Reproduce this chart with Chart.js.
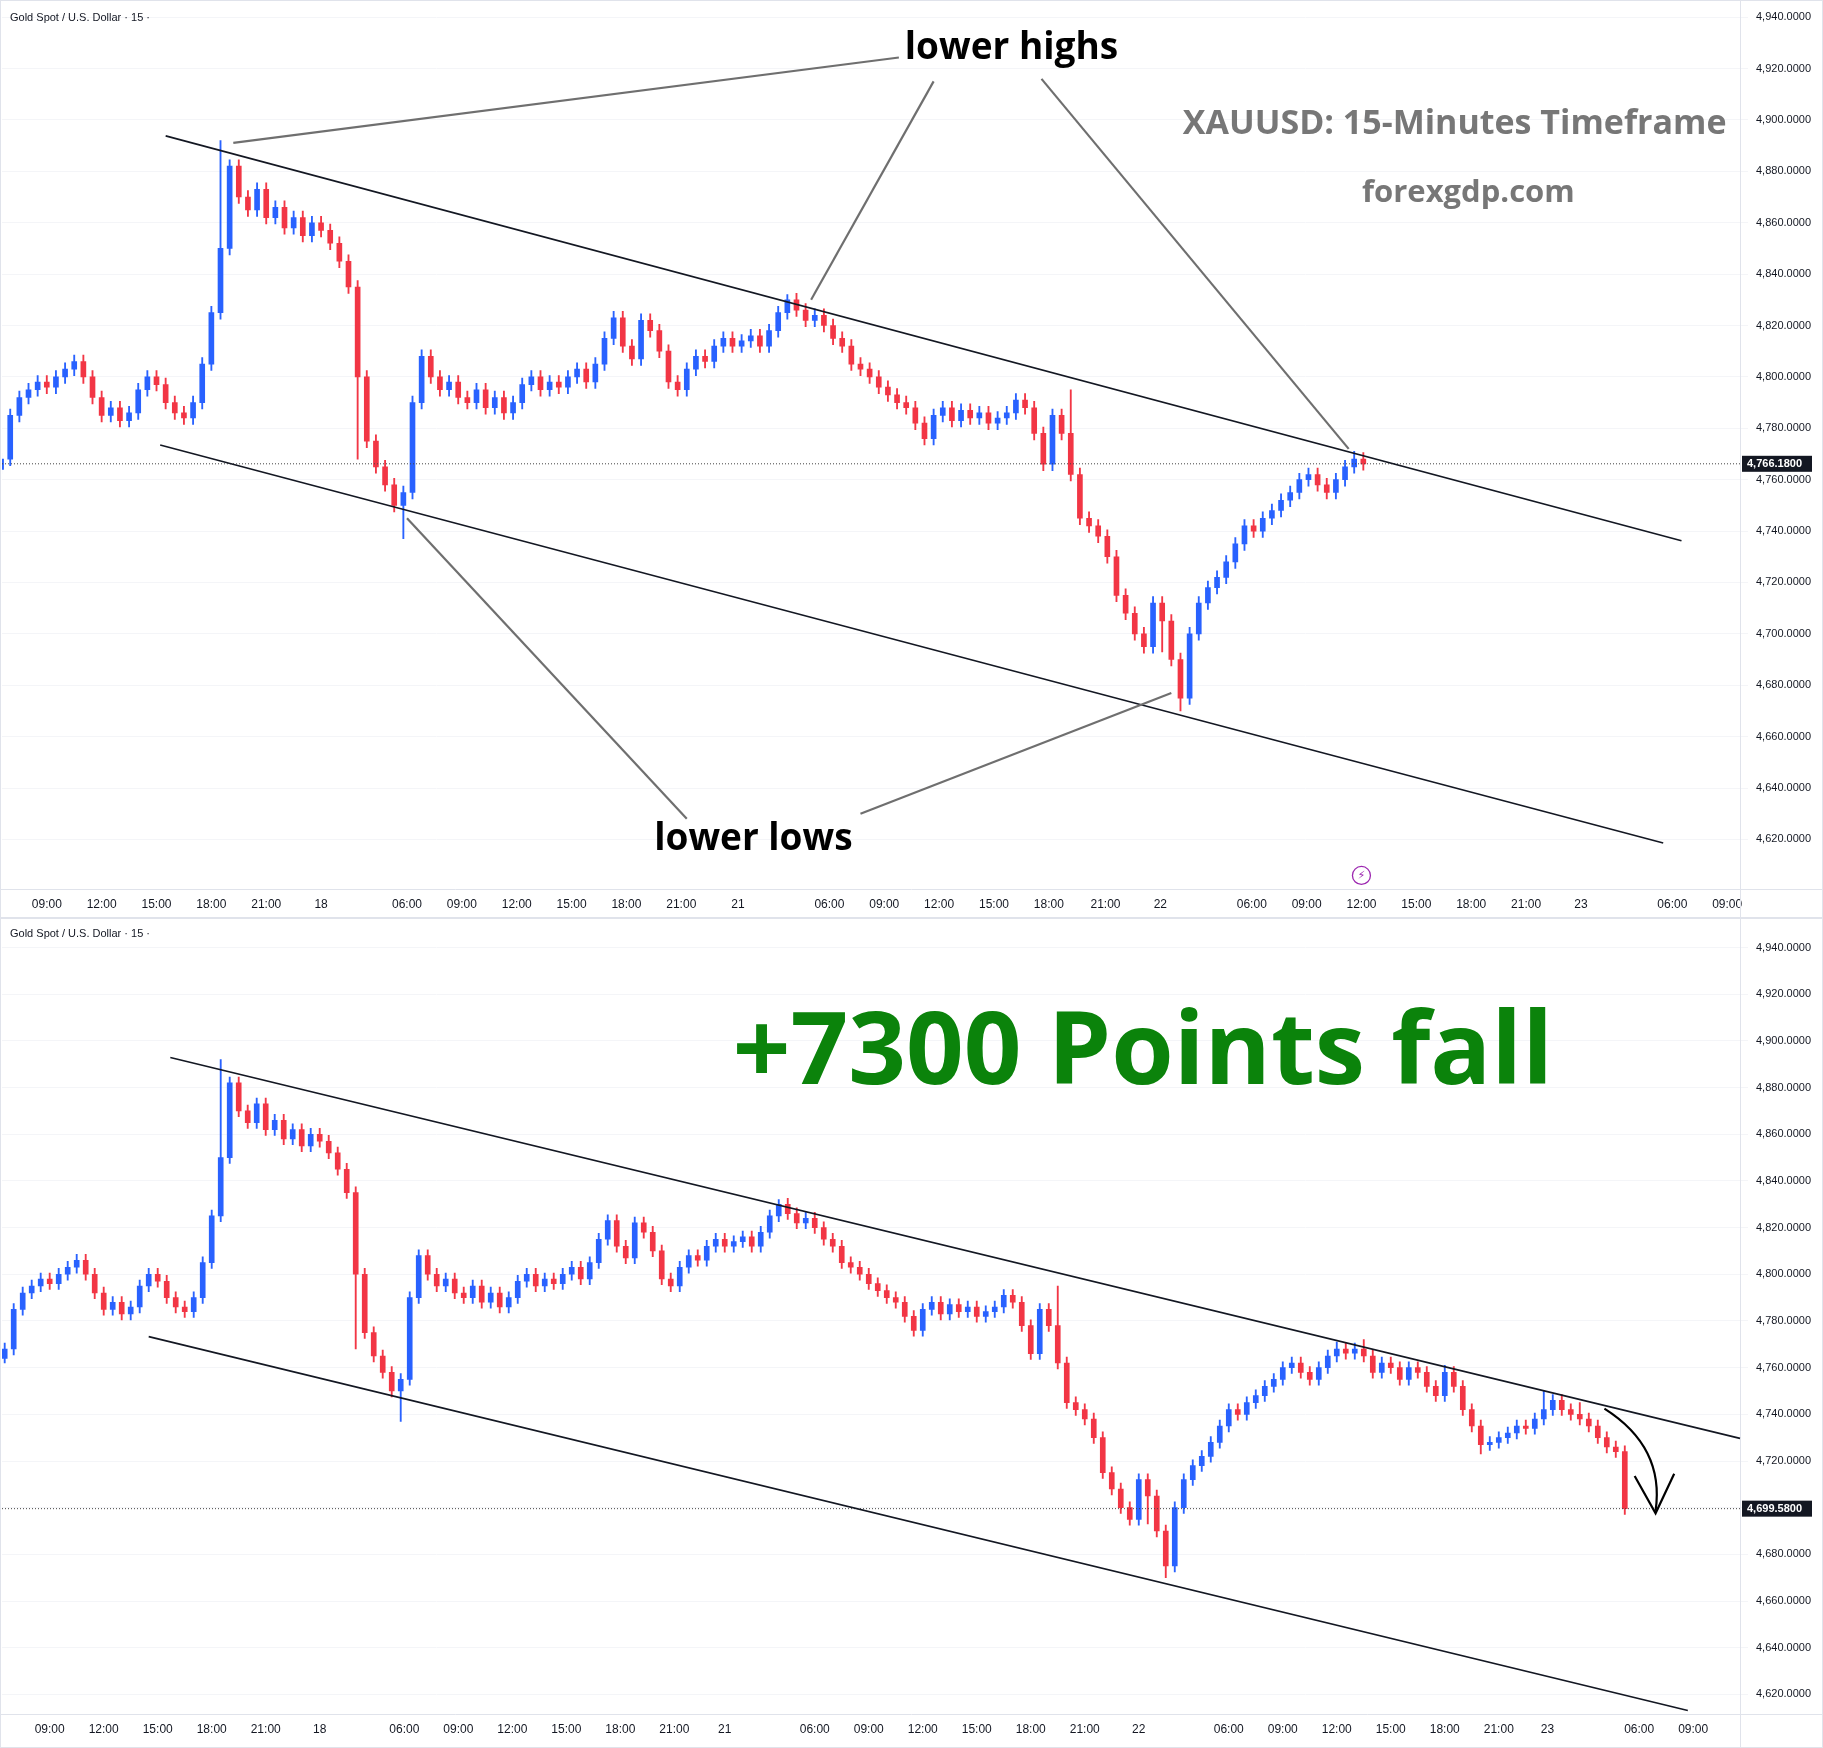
<!DOCTYPE html>
<html><head><meta charset="utf-8">
<script src="https://cdn.jsdelivr.net/npm/chart.js@4.4.1/dist/chart.umd.min.js"></script>
<style>
html,body{margin:0;padding:0;background:#fff;}
#w1{position:absolute;left:0;top:0;width:1823px;height:918px;}
#w2{position:absolute;left:0;top:918px;width:1823px;height:830px;}
</style></head><body>
<div id="w1"><canvas id="c1"></canvas></div>
<div id="w2"><canvas id="c2"></canvas></div>
<script>
// half-hour candle closes, trading-hour index starting at h=-2.5 (07:30, day 17)
const startHour = -2.5;
const closes = [
4768,4785,4792,4795,4798,4796,4800,4803,4806,4800,
4792,4785,4788,4783,4786,4795,4800,4797,4790,4786,
4784,4790,4805,4825,4850,4882,4870,4865,4873,4862,
4866,4858,4862,4855,4860,4857,4852,4845,4835,4800,
4775,4765,4758,4750,4755,4790,4808,4800,4795,4798,
4792,4790,4795,4788,4792,4786,4790,4797,4800,4795,
4798,4796,4800,4803,4798,4805,4815,4823,4812,4807,
4822,4818,4810,4798,4795,4803,4808,4806,4812,4815,
4812,4814,4816,4812,4818,4825,4830,4826,4822,4824,
4820,4815,4812,4805,4803,4800,4796,4793,4790,4788,
4782,4776,4785,4788,4783,4787,4784,4786,4782,4784,
4786,4791,4788,4778,4766,4785,4778,4762,4745,4742,
4738,4730,4715,4708,4700,4695,4712,4705,4690,4675,
4700,4712,4718,4722,4728,4735,4742,4740,4745,4748,
4752,4755,4760,4762,4758,4755,4760,4765,4768,4766.18,
4768,4765,4758,4762,4760,4755,4760,4758,4752,4748,
4758,4752,4742,4735,4727,4728,4730,4732,4735,4734,
4738,4742,4746,4742,4740,4738,4735,4730,4726,4724,4699.58
];
const topCount = 150;
const highOverrides = {24:4892, 86:4832, 117:4795, 148:4771, 151:4772, 160:4761, 171:4750, 175:4745};
const lowOverrides = {0:4762, 39:4768, 44:4737, 127:4693, 129:4670, 164:4723};
const tickHoursTop = [0,3,6,9,12,15,19.7,22.7,25.7,28.7,31.7,34.7,37.8,42.8,45.8,48.8,51.8,54.8,57.9,60.9,65.9,68.9,71.9,74.9,77.9,80.9,83.9,88.9,91.9];
const tickHoursBot = [0,3,6,9,12,15,19.7,22.7,25.7,28.7,31.7,34.7,37.5,42.5,45.5,48.5,51.5,54.5,57.5,60.5,65.5,68.5,71.5,74.5,77.5,80.5,83.2,88.3,91.3];
const tickLabels = ["09:00","12:00","15:00","18:00","21:00","18","06:00","09:00","12:00","15:00","18:00","21:00","21","06:00","09:00","12:00","15:00","18:00","21:00","22","06:00","09:00","12:00","15:00","18:00","21:00","23","06:00","09:00"];
const priceTicks = [4620,4640,4660,4680,4700,4720,4740,4760,4780,4800,4820,4840,4860,4880,4900,4920,4940];
// trend / annotation lines in [hour, price]
const topUpper = [[6.5,4893.8],[89.4,4736.2]];
const topLower = [[6.2,4773.5],[88.4,4618.6]];
const topPointers = [
  [[10.2,4891.1],[46.6,4924.3]],
  [[48.5,4915],[41.8,4830]],
  [[54.4,4916],[71.2,4772]],
  [[35.0,4628],[19.7,4745]],
  [[44.5,4630],[61.5,4677]]
];
const botUpper = [[6.7,4892.9],[93.9,4729.7]];
const botLower = [[5.5,4773.3],[91.0,4613.1]];

const S = 1823/1568;
const UP='#2962ff', DN='#f23645';

function buildCandles(n){
  const bodies=[], wicks=[], colors=[];
  for(let i=0;i<n;i++){
    const h = startHour + i*0.5;
    const c = closes[i];
    const o = i===0 ? c-4 : closes[i-1];
    let hi = Math.max(o,c)+2.5, lo = Math.min(o,c)-2.5;
    if(highOverrides[i]!==undefined) hi = highOverrides[i];
    if(lowOverrides[i]!==undefined) lo = lowOverrides[i];
    bodies.push({x:h, y:[o,c]});
    wicks.push({x:h, y:[lo,hi]});
    colors.push(c>=o?UP:DN);
  }
  return {bodies,wicks,colors};
}
function fmt(v){return v.toLocaleString('en-US',{minimumFractionDigits:4,maximumFractionDigits:4});}

function overlay(cfg){
  return {id:'ov',afterDatasetsDraw(chart){
    const ctx=chart.ctx, xs=chart.scales.x, ys=chart.scales.y, a=chart.chartArea;
    const P=p=>[xs.getPixelForValue(p[0]), ys.getPixelForValue(p[1])];
    ctx.save();
    ctx.strokeStyle='#e0e3eb';ctx.lineWidth=1;
    ctx.strokeRect(0.5,0.5,chart.width-1,chart.height-1);
    ctx.beginPath();ctx.moveTo(a.right+0.5,0);ctx.lineTo(a.right+0.5,chart.height);ctx.stroke();
    ctx.beginPath();ctx.moveTo(0,a.bottom+0.5);ctx.lineTo(chart.width,a.bottom+0.5);ctx.stroke();
    ctx.fillStyle='#131722';ctx.font='11px "Liberation Sans", Arial';ctx.textBaseline='middle';ctx.textAlign='left';
    ctx.fillText('Gold Spot / U.S. Dollar · 15 ·',10,cfg.titleY);
    const ly=ys.getPixelForValue(cfg.last);
    ctx.strokeStyle='#444';ctx.setLineDash([1,2]);ctx.beginPath();ctx.moveTo(a.left,ly);ctx.lineTo(a.right,ly);ctx.stroke();ctx.setLineDash([]);
    ctx.fillStyle='#131722';ctx.fillRect(a.right+2,ly-8,70,16);
    ctx.fillStyle='#fff';ctx.font='bold 11px "Liberation Sans", Arial';ctx.fillText(fmt(cfg.last),a.right+7,ly+0.5);
    ctx.strokeStyle='#131722';ctx.lineWidth=1.6;
    cfg.lines.forEach(l=>{const p=P(l[0]),q=P(l[1]);ctx.beginPath();ctx.moveTo(p[0],p[1]);ctx.lineTo(q[0],q[1]);ctx.stroke();});
    ctx.strokeStyle='#6f6f6f';ctx.lineWidth=2.2;
    (cfg.pointers||[]).forEach(l=>{const p=P(l[0]),q=P(l[1]);ctx.beginPath();ctx.moveTo(p[0],p[1]);ctx.lineTo(q[0],q[1]);ctx.stroke();});
    if(cfg.extra) cfg.extra(ctx,chart);
    ctx.restore();
  }};
}

function makeChart(id,n,xmin,xmax,ymin,ymax,ticksH,xh,padTop,cfg){
  const d=buildCandles(n);
  return new Chart(document.getElementById(id),{
    type:'bar',
    data:{datasets:[
      {data:d.wicks,backgroundColor:d.colors,barThickness:1.2,grouped:false},
      {data:d.bodies,backgroundColor:d.colors,barThickness:5,grouped:false,minBarLength:1}
    ]},
    options:{
      animation:false,responsive:true,maintainAspectRatio:false,
      layout:{padding:{top:padTop,left:2,right:0,bottom:0}},
      plugins:{legend:{display:false},tooltip:{enabled:false}},
      scales:{
        x:{type:'linear',min:xmin,max:xmax,offset:false,
          grid:{display:false},border:{display:false},
          afterBuildTicks:s=>{s.ticks=ticksH.map(v=>({value:v}));},
          afterFit:s=>{s.height=xh;},
          ticks:{autoSkip:false,maxRotation:0,color:'#131722',font:{size:12,family:'"Liberation Sans", Arial'},padding:0,
            callback:(v,i)=>tickLabels[i]}},
        y:{position:'right',min:ymin,max:ymax,
          grid:{color:'#f4f5f8'},border:{display:false},
          afterBuildTicks:s=>{s.ticks=priceTicks.filter(v=>v>=ymin&&v<=ymax).map(v=>({value:v}));},
          afterFit:s=>{s.width=83;},
          ticks:{color:'#131722',font:{size:11,family:'"Liberation Sans", Arial'},padding:8,callback:v=>fmt(v)}}
      }
    },
    plugins:[overlay(cfg)]
  });
}

makeChart('c1',topCount,-2.45,92.6,4600.7,4941.0,tickHoursTop,29,0,{
  titleY:18,last:closes[topCount-1],lines:[topUpper,topLower],pointers:topPointers,
  extra:(ctx,chart)=>{
    ctx.textBaseline='middle';
    ctx.fillStyle='#000';ctx.font='bold 37px "Open Sans"';ctx.textAlign='center';
    ctx.fillText('lower highs',870*S,42*S);
    ctx.fillText('lower lows',648*S,722*S);
    ctx.fillStyle='#777';ctx.font='bold 34px "Open Sans"';ctx.textAlign='right';
    ctx.fillText('XAUUSD: 15-Minutes Timeframe',1485*S,107*S);
    ctx.textAlign='center';ctx.font='bold 31px "Open Sans"';
    ctx.fillText('forexgdp.com',1263*S,166*S);
    ctx.strokeStyle='#9c27b0';ctx.lineWidth=1.3;ctx.beginPath();ctx.arc(1171*S,753*S,9,0,Math.PI*2);ctx.stroke();
    ctx.fillStyle='#9c27b0';ctx.font='11px "DejaVu Sans"';ctx.fillText('⚡',1171*S,753*S+1);
  }
});
makeChart('c2',closes.length,-2.65,93.9,4611.6,4946.4,tickHoursBot,34,4,{
  titleY:16,last:closes[closes.length-1],lines:[botUpper,botLower],
  extra:(ctx,chart)=>{
    const Y=y=>(y-790)*S;
    ctx.fillStyle='#0b830b';ctx.font='bold 101px "Open Sans"';ctx.textAlign='center';ctx.textBaseline='middle';
    ctx.fillText('+7300 Points fall',983*S,Y(908));
    ctx.strokeStyle='#000';ctx.lineWidth=2.2;
    ctx.beginPath();ctx.moveTo(1380*S,Y(1212));ctx.quadraticCurveTo(1432*S,Y(1245),1424*S,Y(1300));ctx.stroke();
    ctx.beginPath();ctx.moveTo(1406*S,Y(1270));ctx.lineTo(1424*S,Y(1302));ctx.lineTo(1440*S,Y(1268));ctx.stroke();
  }
});
</script></body></html>
